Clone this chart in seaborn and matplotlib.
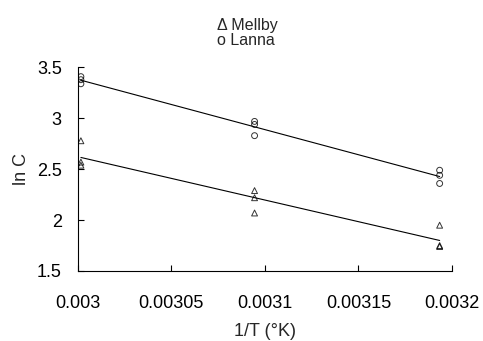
import matplotlib
matplotlib.use("Agg")
import matplotlib.pyplot as plt
import seaborn as sns
import pandas as pd

# data: three storage temperatures (1/T in 1/K)
inv_t = [0.0030017, 0.0030945, 0.0031934]

mellby_x = [inv_t[0]] * 3 + [inv_t[1]] * 3 + [inv_t[2]] * 3
mellby_lnc = [2.78, 2.57, 2.54, 2.29, 2.22, 2.07, 1.95, 1.75, 1.74]

lanna_x = [inv_t[0]] * 3 + [inv_t[1]] * 3 + [inv_t[2]] * 3
lanna_lnc = [3.41, 3.38, 3.34, 2.97, 2.94, 2.83, 2.49, 2.44, 2.36]

x_ticks = [0.003, 0.00305, 0.0031, 0.00315, 0.0032]
x_tick_labels = ["0.003", "0.00305", "0.0031", "0.00315", "0.0032"]
y_ticks = [1.5, 2, 2.5, 3, 3.5]
y_tick_labels = ["1.5", "2", "2.5", "3", "3.5"]

mellby = pd.DataFrame({"x": mellby_x, "lnc": mellby_lnc})
lanna = pd.DataFrame({"x": lanna_x, "lnc": lanna_lnc})

sns.set_style("ticks")
plt.rcParams["font.family"] = ["Liberation Sans", "DejaVu Sans"]
plt.rcParams["xtick.direction"] = "in"
plt.rcParams["ytick.direction"] = "in"

fig = plt.figure(figsize=(4.83, 3.41), dpi=100)
ax = fig.add_axes([0.1609, 0.2053, 0.7749, 0.5968])

sns.regplot(data=mellby, x="x", y="lnc", ax=ax, ci=None, truncate=True,
            marker="^", scatter_kws={"s": 18, "facecolors": "none",
                                     "edgecolors": "black", "linewidths": 0.7},
            line_kws={"color": "black", "linewidth": 0.8})
sns.regplot(data=lanna, x="x", y="lnc", ax=ax, ci=None, truncate=True,
            marker="o", scatter_kws={"s": 18, "facecolors": "none",
                                     "edgecolors": "black", "linewidths": 0.7},
            line_kws={"color": "black", "linewidth": 0.8})

ax.set_xlim(0.003, 0.0032)
ax.set_ylim(1.5, 3.5)
ax.set_xticks(x_ticks)
ax.set_xticklabels(x_tick_labels, fontsize=13)
ax.set_yticks(y_ticks)
ax.set_yticklabels(y_tick_labels, fontsize=13)
ax.tick_params(length=4, width=0.8, colors="black")
ax.tick_params(axis="x", pad=17.5)
ax.tick_params(axis="y", pad=11.5)

sns.despine(ax=ax)
for s in ["left", "bottom"]:
    ax.spines[s].set_color("black")
    ax.spines[s].set_linewidth(0.8)

ax.set_xlabel("1/T (°K)", fontsize=13, labelpad=7.5)
ax.set_ylabel("ln C", fontsize=13, labelpad=5)

# legend-like title, slightly left of centre as in the original
fig.text(217 / 483, 0.902, "\u0394 Mellby\no Lanna", fontsize=11.5,
         ha="left", va="center", linespacing=1.0)

fig.savefig("out.png", dpi=100)
